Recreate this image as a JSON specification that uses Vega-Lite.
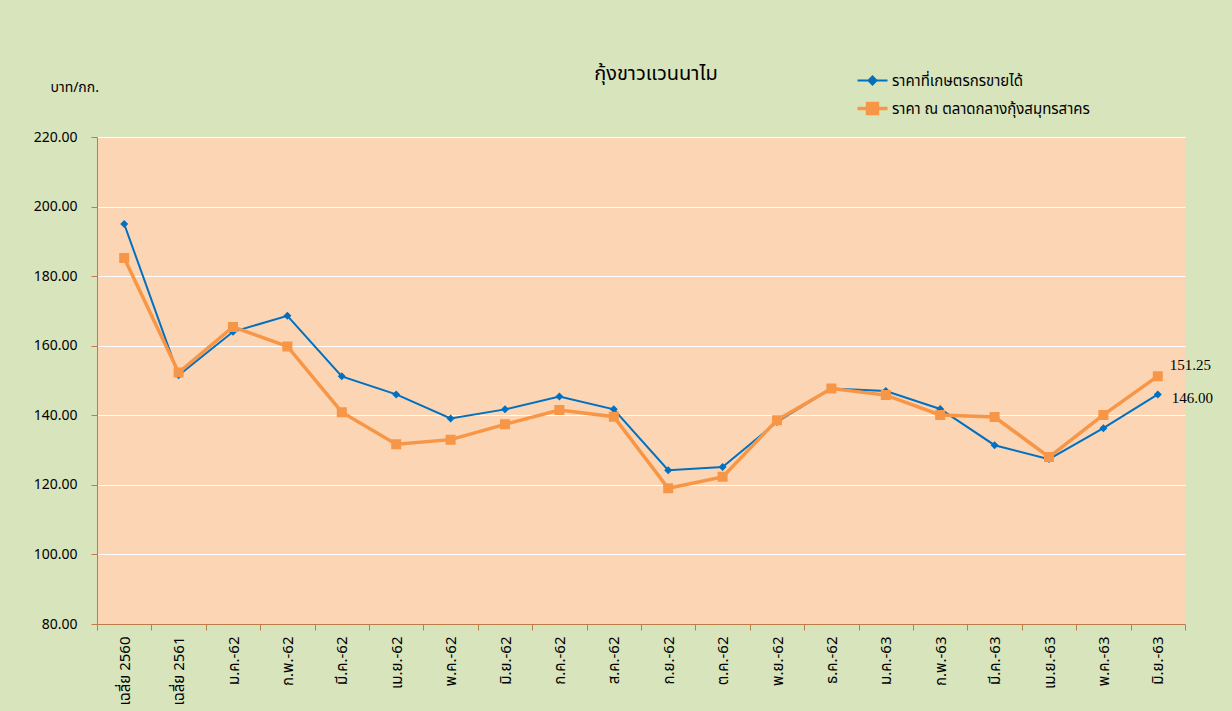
{
  "$schema": "https://vega.github.io/schema/vega-lite/v6.json",
  "width": 1088,
  "height": 487,
  "autosize": {"type": "none"},
  "padding": {"left": 97, "top": 137, "right": 47, "bottom": 87},
  "background": "#D8E4BC",
  "config": {
    "view": {"fill": "#FCD5B4", "stroke": null},
    "font": "Tahoma, 'Noto Sans Thai', 'Noto Sans', 'DejaVu Sans', sans-serif"
  },
  "title": {
    "text": "กุ้งขาวแวนนาไม",
    "fontSize": 20,
    "fontWeight": "normal",
    "color": "#000000",
    "offset": -11,
    "dx": 15
  },
  "data": {
    "values": [
      {"month": "เฉลี่ย 2560", "series": "ราคาที่เกษตรกรขายได้", "price": 195.0},
      {"month": "เฉลี่ย 2561", "series": "ราคาที่เกษตรกรขายได้", "price": 151.5},
      {"month": "ม.ค.-62", "series": "ราคาที่เกษตรกรขายได้", "price": 164.0},
      {"month": "ก.พ.-62", "series": "ราคาที่เกษตรกรขายได้", "price": 168.6},
      {"month": "มี.ค.-62", "series": "ราคาที่เกษตรกรขายได้", "price": 151.2},
      {"month": "เม.ย.-62", "series": "ราคาที่เกษตรกรขายได้", "price": 146.0},
      {"month": "พ.ค.-62", "series": "ราคาที่เกษตรกรขายได้", "price": 139.1},
      {"month": "มิ.ย.-62", "series": "ราคาที่เกษตรกรขายได้", "price": 141.7},
      {"month": "ก.ค.-62", "series": "ราคาที่เกษตรกรขายได้", "price": 145.4},
      {"month": "ส.ค.-62", "series": "ราคาที่เกษตรกรขายได้", "price": 141.7},
      {"month": "ก.ย.-62", "series": "ราคาที่เกษตรกรขายได้", "price": 124.2},
      {"month": "ต.ค.-62", "series": "ราคาที่เกษตรกรขายได้", "price": 125.1},
      {"month": "พ.ย.-62", "series": "ราคาที่เกษตรกรขายได้", "price": 138.1},
      {"month": "ธ.ค.-62", "series": "ราคาที่เกษตรกรขายได้", "price": 147.7},
      {"month": "ม.ค.-63", "series": "ราคาที่เกษตรกรขายได้", "price": 147.0},
      {"month": "ก.พ.-63", "series": "ราคาที่เกษตรกรขายได้", "price": 141.8},
      {"month": "มี.ค.-63", "series": "ราคาที่เกษตรกรขายได้", "price": 131.4},
      {"month": "เม.ย.-63", "series": "ราคาที่เกษตรกรขายได้", "price": 127.4},
      {"month": "พ.ค.-63", "series": "ราคาที่เกษตรกรขายได้", "price": 136.3},
      {"month": "มิ.ย.-63", "series": "ราคาที่เกษตรกรขายได้", "price": 146.0},
      {"month": "เฉลี่ย 2560", "series": "ราคา ณ ตลาดกลางกุ้งสมุทรสาคร", "price": 185.2},
      {"month": "เฉลี่ย 2561", "series": "ราคา ณ ตลาดกลางกุ้งสมุทรสาคร", "price": 152.3},
      {"month": "ม.ค.-62", "series": "ราคา ณ ตลาดกลางกุ้งสมุทรสาคร", "price": 165.4},
      {"month": "ก.พ.-62", "series": "ราคา ณ ตลาดกลางกุ้งสมุทรสาคร", "price": 159.8},
      {"month": "มี.ค.-62", "series": "ราคา ณ ตลาดกลางกุ้งสมุทรสาคร", "price": 140.9},
      {"month": "เม.ย.-62", "series": "ราคา ณ ตลาดกลางกุ้งสมุทรสาคร", "price": 131.7},
      {"month": "พ.ค.-62", "series": "ราคา ณ ตลาดกลางกุ้งสมุทรสาคร", "price": 133.0},
      {"month": "มิ.ย.-62", "series": "ราคา ณ ตลาดกลางกุ้งสมุทรสาคร", "price": 137.4},
      {"month": "ก.ค.-62", "series": "ราคา ณ ตลาดกลางกุ้งสมุทรสาคร", "price": 141.5},
      {"month": "ส.ค.-62", "series": "ราคา ณ ตลาดกลางกุ้งสมุทรสาคร", "price": 139.6},
      {"month": "ก.ย.-62", "series": "ราคา ณ ตลาดกลางกุ้งสมุทรสาคร", "price": 119.0},
      {"month": "ต.ค.-62", "series": "ราคา ณ ตลาดกลางกุ้งสมุทรสาคร", "price": 122.3},
      {"month": "พ.ย.-62", "series": "ราคา ณ ตลาดกลางกุ้งสมุทรสาคร", "price": 138.6},
      {"month": "ธ.ค.-62", "series": "ราคา ณ ตลาดกลางกุ้งสมุทรสาคร", "price": 147.7},
      {"month": "ม.ค.-63", "series": "ราคา ณ ตลาดกลางกุ้งสมุทรสาคร", "price": 145.8},
      {"month": "ก.พ.-63", "series": "ราคา ณ ตลาดกลางกุ้งสมุทรสาคร", "price": 140.1},
      {"month": "มี.ค.-63", "series": "ราคา ณ ตลาดกลางกุ้งสมุทรสาคร", "price": 139.5},
      {"month": "เม.ย.-63", "series": "ราคา ณ ตลาดกลางกุ้งสมุทรสาคร", "price": 128.0},
      {"month": "พ.ค.-63", "series": "ราคา ณ ตลาดกลางกุ้งสมุทรสาคร", "price": 140.1},
      {"month": "มิ.ย.-63", "series": "ราคา ณ ตลาดกลางกุ้งสมุทรสาคร", "price": 151.25}
    ]
  },
  "encoding": {
    "x": {
      "field": "month",
      "type": "nominal",
      "sort": null,
      "scale": {"paddingInner": 0, "paddingOuter": 0},
      "axis": {
        "title": null,
        "labelAngle": 270,
        "labelFontSize": 15,
        "labelColor": "#000000",
        "labelPadding": 6,
        "tickBand": "extent",
        "tickSize": 6,
        "tickColor": "#BE7C4A",
        "domainColor": "#BE7C4A",
        "domainWidth": 1,
        "grid": false
      }
    },
    "y": {
      "field": "price",
      "type": "quantitative",
      "scale": {"domain": [80, 220], "nice": false, "zero": false},
      "axis": {
        "values": [80, 100, 120, 140, 160, 180, 200, 220],
        "format": ".2f",
        "labelFontSize": 14,
        "labelColor": "#000000",
        "labelPadding": 14,
        "tickSize": 6,
        "tickColor": "#BE7C4A",
        "domainColor": "#BE7C4A",
        "gridColor": "#FFFFFF",
        "gridWidth": 1.2,
        "gridOpacity": 1,
        "title": "บาท/กก.",
        "titleAngle": 0,
        "titleAlign": "left",
        "titleBaseline": "middle",
        "titleX": -47,
        "titleY": -50,
        "titleFontSize": 14,
        "titleFontWeight": "normal",
        "titleColor": "#000000"
      }
    },
    "color": {
      "field": "series",
      "type": "nominal",
      "sort": ["ราคาที่เกษตรกรขายได้", "ราคา ณ ตลาดกลางกุ้งสมุทรสาคร"],
      "scale": {
        "domain": ["ราคาที่เกษตรกรขายได้", "ราคา ณ ตลาดกลางกุ้งสมุทรสาคร"],
        "range": ["#0070C0", "#F79646"]
      },
      "legend": {
        "title": null,
        "orient": "none",
        "legendX": 768,
        "legendY": -64,
        "labelFontSize": 15,
        "labelColor": "#000000",
        "labelOffset": 12,
        "labelLimit": 0,
        "symbolSize": 100,
        "symbolStrokeWidth": 2.5,
        "rowPadding": 7
      }
    }
  },
  "layer": [
    {
      "mark": {"type": "line"},
      "encoding": {
        "strokeWidth": {
          "field": "series",
          "type": "nominal",
          "scale": {
            "domain": ["ราคาที่เกษตรกรขายได้", "ราคา ณ ตลาดกลางกุ้งสมุทรสาคร"],
            "range": [2, 3.5]
          },
          "legend": null
        }
      }
    },
    {
      "mark": {"type": "point", "filled": true, "opacity": 1, "size": 100},
      "encoding": {
        "stroke": {
          "field": "series",
          "type": "nominal",
          "scale": {
            "domain": ["ราคาที่เกษตรกรขายได้", "ราคา ณ ตลาดกลางกุ้งสมุทรสาคร"],
            "range": ["#0070C0", "#F79646"]
          }
        },
        "strokeWidth": {"value": 0},
        "shape": {
          "field": "series",
          "type": "nominal",
          "scale": {
            "domain": ["ราคาที่เกษตรกรขายได้", "ราคา ณ ตลาดกลางกุ้งสมุทรสาคร"],
            "range": ["M-3,0L3,0M0,-0.8L0.8,0L0,0.8L-0.8,0Z", "M-3,0L3,0M-1,-1L1,-1L1,1L-1,1Z"]
          }
        }
      }
    },
    {
      "transform": [{"filter": "datum.month === 'มิ.ย.-63' && datum.series === 'ราคา ณ ตลาดกลางกุ้งสมุทรสาคร'"}],
      "mark": {"type": "text", "align": "left", "baseline": "middle", "dx": 12, "dy": -11, "fontSize": 15, "font": "Liberation Serif"},
      "encoding": {"text": {"field": "price", "type": "quantitative", "format": ".2f"}, "color": {"value": "#000000"}}
    },
    {
      "transform": [{"filter": "datum.month === 'มิ.ย.-63' && datum.series === 'ราคาที่เกษตรกรขายได้'"}],
      "mark": {"type": "text", "align": "left", "baseline": "middle", "dx": 14, "dy": 4, "fontSize": 15, "font": "Liberation Serif"},
      "encoding": {"text": {"field": "price", "type": "quantitative", "format": ".2f"}, "color": {"value": "#000000"}}
    }
  ]
}
